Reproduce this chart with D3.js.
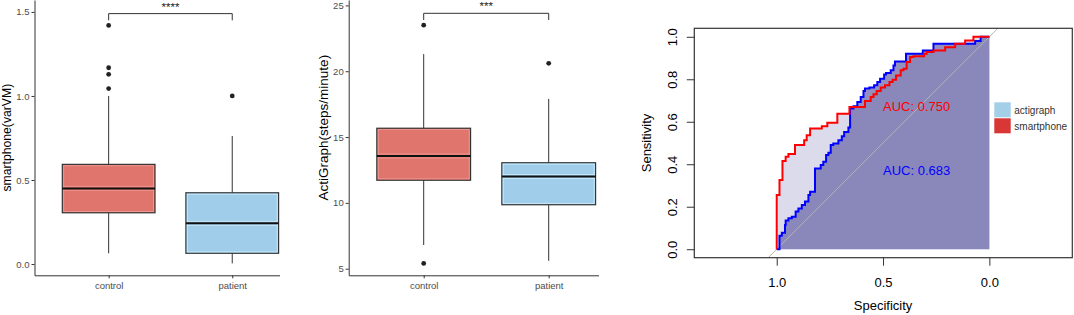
<!DOCTYPE html>
<html lang="en">
<head>
<meta charset="UTF-8">
<title>Boxplots and ROC curves</title>
<script src="https://d3js.org/d3.v7.min.js"></script>
<style>
  body { margin: 0; background: #fff; }
  svg { display: block; font-family: "Liberation Sans", Arial, sans-serif; }
  .bx path, .bx line { stroke: #333; }
  .bx text { fill: #4d4d4d; font-size: 9.5px; font-family: "Liberation Sans", Arial, sans-serif; }
  .roc path, .roc line { stroke: #333; }
  .roc text { fill: #000; font-size: 13px; font-family: "Liberation Sans", Arial, sans-serif; }
</style>
</head>
<body>
<svg width="1074" height="315"></svg>
<script>
// boxplot data
const groups = ["control", "patient"];
const boxFill = ["#e0756e", "#a0ceea"];
const boxInner = ["#f29c96", "#d2ecfa"];

const smartLow = [0.064, 0.004];
const smartQ1 = [0.305, 0.064];
const smartMedian = [0.450, 0.242];
const smartQ3 = [0.593, 0.424];
const smartHigh = [1.000, 0.762];
const smartOutliers = [[1.42, 1.168, 1.129, 1.044], [1.0]];

const stepsLow = [6.8, 5.6];
const stepsQ1 = [11.72, 9.86];
const stepsMedian = [13.56, 12.0];
const stepsQ3 = [15.67, 13.05];
const stepsHigh = [21.3, 17.9];
const stepsOutliers = [[23.5, 5.4], [20.6]];

// ROC curves (specificity, sensitivity corners of the steps)
const smartSpec = [1, 0.987, 0.973, 0.958, 0.945, 0.914, 0.871, 0.859, 0.843, 0.788, 0.762, 0.715, 0.658, 0.585, 0.558, 0.545, 0.530, 0.511, 0.491, 0.470, 0.455, 0.439, 0.417, 0.404, 0.389, 0.373, 0.357, 0.307, 0.295, 0.263, 0.208, 0.161, 0.114, 0.075, 0];
const smartSens = [0, 0.255, 0.326, 0.415, 0.435, 0.448, 0.490, 0.513, 0.537, 0.568, 0.579, 0.595, 0.638, 0.670, 0.698, 0.717, 0.729, 0.745, 0.761, 0.772, 0.787, 0.798, 0.818, 0.842, 0.850, 0.881, 0.905, 0.908, 0.920, 0.928, 0.936, 0.951, 0.967, 0.983, 1];
const actiSpec = [1, 0.987, 0.976, 0.961, 0.958, 0.945, 0.929, 0.911, 0.898, 0.882, 0.867, 0.851, 0.843, 0.820, 0.793, 0.781, 0.768, 0.757, 0.746, 0.734, 0.710, 0.694, 0.683, 0.663, 0.655, 0.639, 0.621, 0.605, 0.592, 0.585, 0.564, 0.542, 0.527, 0.514, 0.495, 0.486, 0.464, 0.451, 0.444, 0.428, 0.392, 0.313, 0.263, 0.067, 0.041, 0];
const actiSens = [0, 0, 0.063, 0.078, 0.114, 0.135, 0.146, 0.153, 0.177, 0.192, 0.208, 0.224, 0.255, 0.271, 0.380, 0.396, 0.412, 0.443, 0.454, 0.490, 0.498, 0.513, 0.532, 0.552, 0.573, 0.662, 0.673, 0.693, 0.717, 0.745, 0.756, 0.761, 0.772, 0.787, 0.803, 0.823, 0.829, 0.842, 0.865, 0.884, 0.884, 0.920, 0.936, 0.967, 0.980, 1];

const legendNames = ["actigraph", "smartphone"];
const legendColors = ["#a3cfe8", "#d93636"];
const aucLabels = ["AUC: 0.750", "AUC: 0.683"];
const aucColors = ["#ff0000", "#0000ff"];
const aucY = [0.674, 0.372];

const svg = d3.select("svg");
const defs = svg.append("defs");

function boxPanel(cfg) {
  defs.append("clipPath").attr("id", cfg.id)
    .append("rect").attr("x", 0).attr("y", 0).attr("width", cfg.clipRight).attr("height", 315);
  const g = svg.append("g").attr("clip-path", `url(#${cfg.id})`);

  const y = d3.scaleLinear().domain(cfg.yDomain).range([275.3, 0]);
  const x = d3.scalePoint().domain(groups).range(cfg.xRange).padding(0.6);
  const bw = x.step() * 0.75;

  g.append("g").attr("class", "bx")
    .attr("transform", `translate(${cfg.xRange[0]},0)`)
    .call(d3.axisLeft(y).tickValues(cfg.ticks).tickSize(3).tickSizeOuter(0).tickPadding(2).tickFormat(cfg.fmt));
  g.append("g").attr("class", "bx")
    .attr("transform", "translate(0,275.3)")
    .call(d3.axisBottom(x).tickSize(3).tickSizeOuter(0).tickPadding(4));

  groups.forEach((grp, i) => {
    const cx = x(grp);
    g.append("line").attr("x1", cx).attr("x2", cx)
      .attr("y1", y(cfg.low[i])).attr("y2", y(cfg.high[i]))
      .attr("stroke", "#333").attr("stroke-width", 1);
    g.append("rect").attr("x", cx - bw / 2).attr("y", y(cfg.q3[i]))
      .attr("width", bw).attr("height", y(cfg.q1[i]) - y(cfg.q3[i]))
      .attr("fill", boxFill[i]).attr("stroke", "#333").attr("stroke-width", 1.2);
    g.append("rect").attr("x", cx - bw / 2 + 1.4).attr("y", y(cfg.q3[i]) + 1.4)
      .attr("width", bw - 2.8).attr("height", y(cfg.q1[i]) - y(cfg.q3[i]) - 2.8)
      .attr("fill", "none").attr("stroke", boxInner[i]).attr("stroke-width", 0.8);
    [-2, 2].forEach(o => g.append("line")
      .attr("x1", cx - bw / 2 + 1).attr("x2", cx + bw / 2 - 1)
      .attr("y1", y(cfg.median[i]) + o).attr("y2", y(cfg.median[i]) + o)
      .attr("stroke", boxInner[i]).attr("stroke-width", 0.8));
    g.append("line").attr("x1", cx - bw / 2).attr("x2", cx + bw / 2)
      .attr("y1", y(cfg.median[i])).attr("y2", y(cfg.median[i]))
      .attr("stroke", "#111").attr("stroke-width", 2);
    g.selectAll(null).data(cfg.outliers[i]).enter().append("circle")
      .attr("cx", cx).attr("cy", d => y(d)).attr("r", 2.4).attr("fill", "#222");
  });

  // significance bracket
  const by = y(cfg.bracket);
  g.append("path")
    .attr("d", `M${x(groups[0])},${by + 6.7}V${by}H${x(groups[1])}V${by + 6.7}`)
    .attr("fill", "none").attr("stroke", "#333").attr("stroke-width", 1);
  g.append("text").attr("x", (x(groups[0]) + x(groups[1])) / 2).attr("y", by - 2.8)
    .attr("text-anchor", "middle").attr("font-size", "11.5px").attr("fill", "#222")
    .text(cfg.stars);

  svg.append("text")
    .attr("transform", `translate(${cfg.titleX},${(y.range()[0] + y.range()[1]) / 2 + cfg.titleShift}) rotate(-90)`)
    .attr("text-anchor", "middle").attr("font-size", cfg.titleSize + "px").attr("fill", "#000")
    .text(cfg.title);
}

boxPanel({
  id: "c1", clipRight: 280, xRange: [34.5, 306.4], yDomain: [-0.067, 1.571],
  ticks: [0, 0.5, 1, 1.5], fmt: d3.format(".1f"),
  low: smartLow, q1: smartQ1, median: smartMedian, q3: smartQ3, high: smartHigh, outliers: smartOutliers,
  bracket: 1.49, stars: "****", title: "smartphone(varVM)", titleX: 10.5, titleSize: 12.2, titleShift: 0
});
boxPanel({
  id: "c2", clipRight: 599, xRange: [348.7, 623.7], yDomain: [4.5, 25.41],
  ticks: [5, 10, 15, 20, 25], fmt: d => d,
  low: stepsLow, q1: stepsQ1, median: stepsMedian, q3: stepsQ3, high: stepsHigh, outliers: stepsOutliers,
  bracket: 24.4, stars: "***", title: "ActiGraph(steps/minute)", titleX: 327.5, titleSize: 13.5, titleShift: -10
});

// ROC panel
const fr = { l: 694.3, r: 1072.3, t: 28.3, b: 257.7 };
const xR = d3.scaleLinear().domain([1.3876, -0.39]).range([fr.l, fr.r]);
const yR = d3.scaleLinear().domain([-0.04, 1.04]).range([fr.b, fr.t]);

defs.append("clipPath").attr("id", "rocclip")
  .append("rect").attr("x", fr.l).attr("y", fr.t).attr("width", fr.r - fr.l).attr("height", fr.b - fr.t);
const rg = svg.append("g").attr("clip-path", "url(#rocclip)");

const smartPts = smartSpec.map((s, i) => [s, smartSens[i]]);
const actiPts = actiSpec.map((s, i) => [s, actiSens[i]]);

const area = d3.area().curve(d3.curveStepBefore)
  .x(d => xR(d[0])).y0(yR(0)).y1(d => yR(d[1]));
const line = d3.line().curve(d3.curveStepBefore)
  .x(d => xR(d[0])).y(d => yR(d[1]));

rg.append("path").attr("d", area(smartPts)).attr("fill", "#dcdbeb");
rg.append("path").attr("d", area(actiPts)).attr("fill", "#6f6baa").attr("fill-opacity", 0.75);

// chance diagonal
rg.append("line")
  .attr("x1", xR(1 - yR.domain()[0])).attr("y1", yR(yR.domain()[0]))
  .attr("x2", xR(1 - yR.domain()[1])).attr("y2", yR(yR.domain()[1]))
  .attr("stroke", "#b4b4b4").attr("stroke-width", 1);

rg.append("path").attr("d", line(actiPts)).attr("fill", "none").attr("stroke", "#0000ff").attr("stroke-width", 2);
rg.append("path").attr("d", line(smartPts)).attr("fill", "none").attr("stroke", "#ff0000").attr("stroke-width", 2);

aucLabels.forEach((t, i) => {
  rg.append("text").attr("x", xR(0.5)).attr("y", yR(aucY[i]))
    .attr("dominant-baseline", "central").attr("font-size", "13px").attr("fill", aucColors[i]).text(t);
});

svg.append("rect").attr("x", fr.l).attr("y", fr.t).attr("width", fr.r - fr.l).attr("height", fr.b - fr.t)
  .attr("fill", "none").attr("stroke", "#333").attr("stroke-width", 1.2);

const yAx = svg.append("g").attr("class", "roc").attr("transform", `translate(${fr.l},0)`)
  .call(d3.axisLeft(yR).tickValues([0, 0.2, 0.4, 0.6, 0.8, 1]).tickSize(7.5).tickSizeOuter(0).tickFormat(d3.format(".1f")));
yAx.select(".domain").remove();
yAx.selectAll(".tick text")
  .attr("x", null).attr("dy", null).attr("text-anchor", "middle")
  .attr("transform", "translate(-17.6,0) rotate(-90)");

const xAx = svg.append("g").attr("class", "roc").attr("transform", `translate(0,${fr.b})`)
  .call(d3.axisBottom(xR).tickValues([1, 0.5, 0]).tickSize(8).tickSizeOuter(0).tickPadding(12).tickFormat(d3.format(".1f")));
xAx.select(".domain").remove();

svg.append("text").attr("x", xR(0.5)).attr("y", 309.5).attr("text-anchor", "middle")
  .attr("font-size", "13px").attr("fill", "#000").text("Specificity");
svg.append("text").attr("transform", `translate(650.6,${(yR(0) + yR(1)) / 2}) rotate(-90)`)
  .attr("text-anchor", "middle").attr("font-size", "13px").attr("fill", "#000").text("Sensitivity");

// legend
legendNames.forEach((n, i) => {
  svg.append("rect").attr("x", 994.3).attr("y", 102.3 + i * 16).attr("width", 16.4).attr("height", 15)
    .attr("fill", legendColors[i]);
  svg.append("text").attr("x", 1014.3).attr("y", 114 + i * 16)
    .attr("font-size", "10px").attr("fill", "#333").text(n);
});
</script>
</body>
</html>
